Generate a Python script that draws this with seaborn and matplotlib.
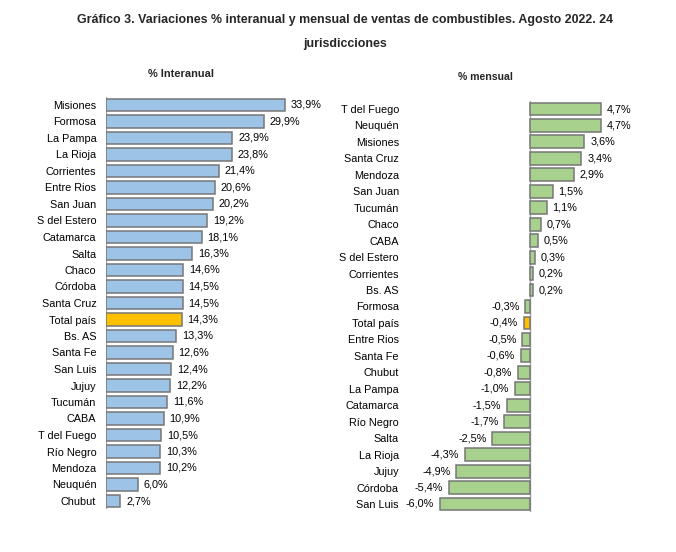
import matplotlib
matplotlib.use("Agg")
import matplotlib.pyplot as plt
import seaborn as sns
import pandas as pd

# ---- data ----
inter_names = ["Misiones", "Formosa", "La Pampa", "La Rioja", "Corrientes", "Entre Rios",
               "San Juan", "S del Estero", "Catamarca", "Salta", "Chaco", "Córdoba",
               "Santa Cruz", "Total país", "Bs. AS", "Santa Fe", "San Luis", "Jujuy",
               "Tucumán", "CABA", "T del Fuego", "Río Negro", "Mendoza", "Neuquén", "Chubut"]
inter_vals = [33.9, 29.9, 23.9, 23.8, 21.4, 20.6, 20.2, 19.2, 18.1, 16.3, 14.6, 14.5,
              14.5, 14.3, 13.3, 12.6, 12.4, 12.2, 11.6, 10.9, 10.5, 10.3, 10.2, 6.0, 2.7]

mens_names = ["T del Fuego", "Neuquén", "Misiones", "Santa Cruz", "Mendoza", "San Juan",
              "Tucumán", "Chaco", "CABA", "S del Estero", "Corrientes", "Bs. AS",
              "Formosa", "Total país", "Entre Rios", "Santa Fe", "Chubut", "La Pampa",
              "Catamarca", "Río Negro", "Salta", "La Rioja", "Jujuy", "Córdoba", "San Luis"]
mens_vals = [4.7, 4.7, 3.6, 3.4, 2.9, 1.5, 1.1, 0.7, 0.5, 0.3, 0.2, 0.2,
             -0.3, -0.4, -0.5, -0.6, -0.8, -1.0, -1.5, -1.7, -2.5, -4.3, -4.9, -5.4, -6.0]

title_l1 = "Gráfico 3. Variaciones % interanual y mensual de ventas de combustibles. Agosto 2022. 24"
title_l2 = "jurisdicciones"
sub_left = "% Interanual"
sub_right = "% mensual"
total_label = "Total país"

BLUE = "#9DC3E6"
GREEN = "#A9D18E"
ORANGE = "#FFC000"
EDGE = "#767676"

sns.set_theme(style="white")
plt.rcParams["font.family"] = ["Liberation Sans", "DejaVu Sans"]

W, H = 676, 552
fig = plt.figure(figsize=(W / 100, H / 100), dpi=100)
fig.patch.set_facecolor("white")

def fx(px):
    return px / W

def fy(py):
    return 1 - py / H

def fmt(v):
    return f"{v:.1f}".replace(".", ",") + "%"

# left axes: zero at x=106, 5.28 px/unit, rows 105..501
l_xmax = 40
l_left, l_w = 106, 40 * 5.28
l_top, l_bot = 105 - 8.25, 501 + 8.25
axL = fig.add_axes([fx(l_left), fy(l_bot), l_w / W, (l_bot - l_top) / H])

# right axes: zero at x=530, 15.05 px/unit, rows 109..504
r_xmin, r_xmax = -6.5, 5.5
r_scale = 15.05
r_left = 530 + r_xmin * r_scale
r_w = (r_xmax - r_xmin) * r_scale
sp = (504 - 109) / 24
r_top, r_bot = 109 - sp / 2, 504 + sp / 2
axR = fig.add_axes([fx(r_left), fy(r_bot), r_w / W, (r_bot - r_top) / H])

FS = 7.8

def draw(ax, names, vals, base_color, xlim, pad_pts):
    df = pd.DataFrame({"name": names, "val": vals})
    colors = {n: (ORANGE if n == total_label else base_color) for n in names}
    sns.barplot(data=df, x="val", y="name", hue="name", palette=colors, legend=False,
                orient="h", width=0.78, edgecolor=EDGE, linewidth=1.1, ax=ax, saturation=1)
    ax.set_xlim(*xlim)
    ax.set_ylim(len(names) - 0.5, -0.5)
    ax.set_xlabel("")
    ax.set_ylabel("")
    ax.set_xticks([])
    for s in ax.spines.values():
        s.set_visible(False)
    ax.axvline(0, color="#A6A6A6", lw=1.0, zorder=0)
    ax.tick_params(axis="y", length=0, pad=pad_pts, labelsize=FS, labelcolor="black")
    for i, v in enumerate(vals):
        if v >= 0:
            ax.annotate(fmt(v), (v, i), xytext=(4.3, 0), textcoords="offset points",
                        ha="left", va="center", fontsize=FS, color="black", annotation_clip=False)
        else:
            ax.annotate(fmt(v), (v, i), xytext=(-4.3, 0), textcoords="offset points",
                        ha="right", va="center", fontsize=FS, color="black", annotation_clip=False)
    ax.set_facecolor("none")

draw(axL, inter_names, inter_vals, BLUE, (0, l_xmax), 7)
draw(axR, mens_names, mens_vals, GREEN, (r_xmin, r_xmax), (r_left - 399) * 0.72)

fig.text(fx(345), fy(20), title_l1, ha="center", va="center", fontsize=8.9, fontweight="bold")
fig.text(fx(345), fy(44), title_l2, ha="center", va="center", fontsize=8.9, fontweight="bold")
fig.text(fx(181), fy(74), sub_left, ha="center", va="center", fontsize=7.9, fontweight="bold")
fig.text(fx(485), fy(77), sub_right, ha="center", va="center", fontsize=7.6, fontweight="bold")

fig.savefig("out.png", dpi=100, facecolor="white")
